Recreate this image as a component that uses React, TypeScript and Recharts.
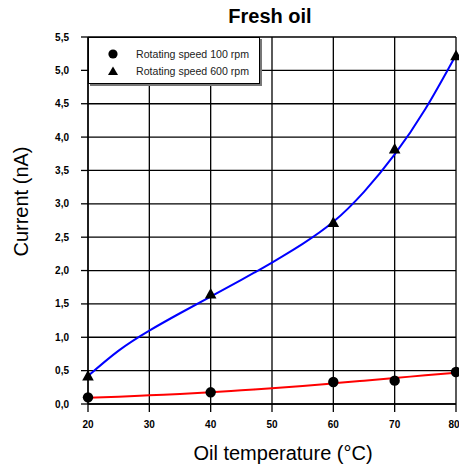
import { ComposedChart, Line, Scatter, XAxis, YAxis, CartesianGrid, Legend } from 'recharts';

// measured points
const temps = [20, 40, 60, 70, 80];
const rpm100 = [0.1, 0.175, 0.33, 0.35, 0.48];
const rpm600 = [0.42, 1.65, 2.72, 3.82, 5.22];

// fitted curves, every 5 °C
const fitTemps = [20, 25, 30, 35, 40, 45, 50, 55, 60, 65, 70, 75, 80];
const fit100 = [0.095, 0.11, 0.13, 0.15, 0.175, 0.205, 0.235, 0.27, 0.31, 0.35, 0.39, 0.43, 0.47];
const fit600 = [0.42, 0.8, 1.1, 1.36, 1.61, 1.86, 2.12, 2.4, 2.73, 3.18, 3.74, 4.42, 5.23];

const xTicks = [20, 30, 40, 50, 60, 70, 80];
const yTicks = [0, 0.5, 1, 1.5, 2, 2.5, 3, 3.5, 4, 4.5, 5, 5.5];

const pts100 = temps.map((x, i) => ({ x, y: rpm100[i] }));
const pts600 = temps.map((x, i) => ({ x, y: rpm600[i] }));
const curve100 = fitTemps.map((x, i) => ({ x, y: fit100[i] }));
const curve600 = fitTemps.map((x, i) => ({ x, y: fit600[i] }));

const font = 'Arial, "Liberation Sans", sans-serif';
const fmt = (v: number) => v.toFixed(1).replace('.', ',');

const Dot = (p: any) => <circle cx={p.cx} cy={p.cy} r={5.2} fill="#000" />;
const Tri = (p: any) => (
  <polygon
    points={`${p.cx},${p.cy - 6} ${p.cx - 5.8},${p.cy + 4.5} ${p.cx + 5.8},${p.cy + 4.5}`}
    fill="#000"
  />
);

const LegendBox = () => (
  <div
    style={{
      width: 172,
      height: 47,
      boxSizing: 'border-box',
      border: '1px solid #000',
      boxShadow: '2px 2px 0 #777',
      background: '#fff',
      fontFamily: font,
      fontSize: 10.6,
      color: '#222',
      paddingTop: 8,
    }}
  >
    {[
      { name: 'Rotating speed 100 rpm', icon: <circle cx={6} cy={6} r={4.6} fill="#000" /> },
      { name: 'Rotating speed 600 rpm', icon: <polygon points="6,1.5 1,10 11,10" fill="#000" /> },
    ].map((it) => (
      <div key={it.name} style={{ display: 'flex', alignItems: 'center', height: 16.5 }}>
        <svg width={12} height={12} style={{ marginLeft: 18, marginRight: 17 }}>
          {it.icon}
        </svg>
        <span>{it.name}</span>
      </div>
    ))}
  </div>
);

export default function App() {
  return (
    <div style={{ position: 'absolute', left: 0, top: 0, width: 459, height: 468, background: '#fff' }}>
      <div
        style={{
          position: 'absolute',
          left: 0,
          width: 540,
          top: 4,
          textAlign: 'center',
          fontFamily: font,
          fontWeight: 'bold',
          fontSize: 20,
          lineHeight: '24px',
        }}
      >
        Fresh oil
      </div>
      <ComposedChart width={459} height={468} margin={{ top: 37, right: 3, bottom: 0, left: 0 }}>
        <CartesianGrid stroke="#000" strokeWidth={1.3} horizontalValues={yTicks} verticalValues={xTicks} />
        <XAxis
          type="number"
          dataKey="x"
          domain={[20, 80]}
          ticks={xTicks}
          height={64}
          tickSize={8}
          tickMargin={9}
          stroke="#000"
          strokeWidth={1.3}
          tick={{ fill: '#000', fontSize: 10, fontWeight: 'bold', fontFamily: font }}
          label={{
            content: ({ viewBox }: any) => (
              <text
                x={viewBox.x + viewBox.width / 2 + 11}
                y={viewBox.y + 56}
                textAnchor="middle"
                fontSize={20}
                fontFamily={font}
                fill="#000"
              >
                Oil temperature (°C)
              </text>
            ),
          }}
        />
        <YAxis
          type="number"
          domain={[0, 5.5]}
          ticks={yTicks}
          width={88}
          tickSize={7}
          tickMargin={12}
          tickFormatter={fmt}
          stroke="#000"
          strokeWidth={1.3}
          tick={{ fill: '#000', fontSize: 10, fontWeight: 'bold', fontFamily: font }}
          label={{
            content: ({ viewBox }: any) => {
              const cx = viewBox.x + 21;
              const cy = viewBox.y + viewBox.height / 2 - 19;
              return (
                <text
                  x={cx}
                  y={cy}
                  transform={`rotate(-90 ${cx} ${cy})`}
                  textAnchor="middle"
                  dominantBaseline="central"
                  fontSize={20}
                  fontFamily={font}
                  fill="#000"
                >
                  Current (nA)
                </text>
              );
            },
          }}
        />
        <Legend
          layout="vertical"
          align="center"
          verticalAlign="middle"
          wrapperStyle={{ top: 37, left: 88, width: 174 }}
          content={() => <LegendBox />}
        />
        <Line data={curve100} dataKey="y" type="natural" stroke="#ff0000" strokeWidth={2} dot={false} isAnimationActive={false} legendType="none" />
        <Line data={curve600} dataKey="y" type="natural" stroke="#0000ff" strokeWidth={2} dot={false} isAnimationActive={false} legendType="none" />
        <Scatter data={pts100} dataKey="y" shape={Dot} isAnimationActive={false} name="Rotating speed 100 rpm" />
        <Scatter data={pts600} dataKey="y" shape={Tri} isAnimationActive={false} name="Rotating speed 600 rpm" />
      </ComposedChart>
    </div>
  );
}
